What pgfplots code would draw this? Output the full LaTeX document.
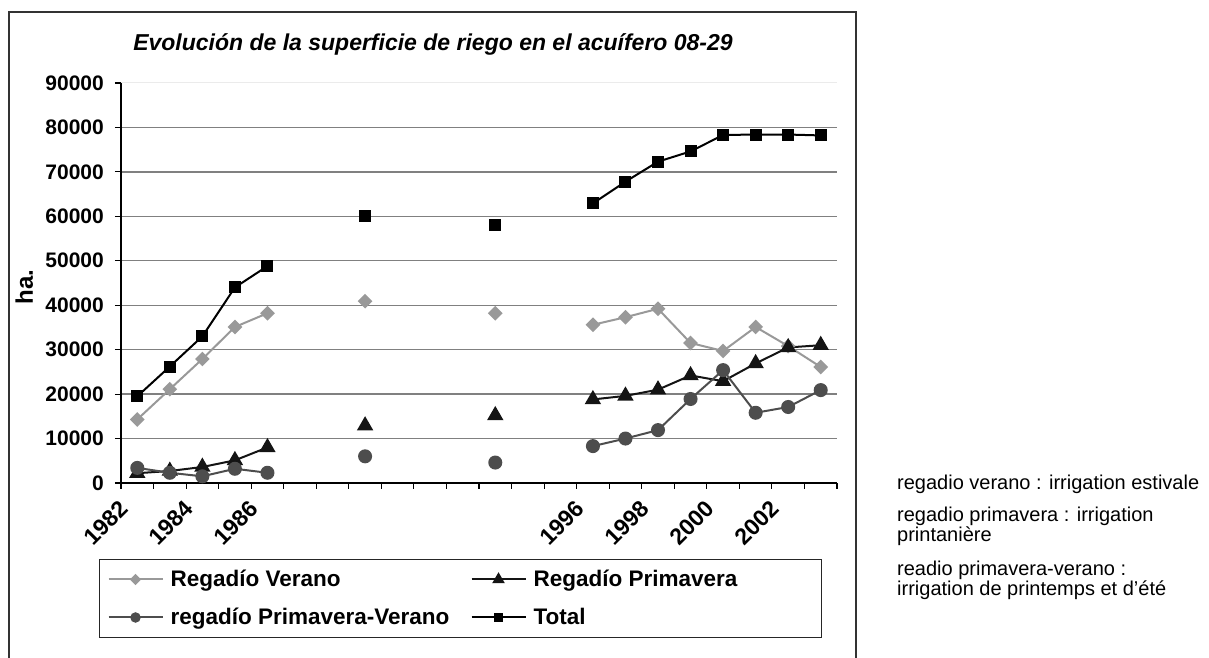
\documentclass[border=0pt]{standalone}
\usepackage{fontspec}
\setmainfont{Liberation Sans}
\usepackage{pgfplots}
\pgfplotsset{compat=1.18}
\definecolor{cVer}{HTML}{999999}
\definecolor{cPri}{HTML}{141414}
\definecolor{cPV}{HTML}{4D4D4D}
\definecolor{cGrid}{HTML}{808080}
\begin{document}
\begin{tikzpicture}[x=1bp,y=1bp]
\useasboundingbox (0,0) rectangle (1209,658);
\draw[line width=1.4bp, black!80] (9,-5) -- (9,646) -- (856,646) -- (856,-5);
\node[font=\bfseries\itshape\fontsize{23bp}{26bp}\selectfont] at (433,614) {Evolución de la superficie de riego en el acuífero 08-29};
\begin{axis}[
  at={(121bp,175bp)}, anchor=south west,
  scale only axis, width=716bp, height=400bp,
  xmin=-0.5, xmax=21.5, ymin=0, ymax=90000,
  axis x line*=bottom, axis y line*=left,
  axis line style={line width=1.3bp, black, -},
  tick align=outside, major tick length=6bp, minor tick length=6bp,
  every tick/.style={black, line width=1.1bp},
  xtick={0,2,4,14,16,18,20},
  xticklabels={1982,1984,1986,1996,1998,2000,2002},
  major x tick style={draw=none},
  minor xtick={-0.5,0.5,...,21.5},
  xticklabel style={font=\bfseries\fontsize{23bp}{25bp}\selectfont, xshift=-19bp, yshift=-10bp, rotate=45, anchor=north east, inner sep=0pt},
  ytick={0,10000,...,80000},
  extra y ticks={90000},
  extra y tick style={major grid style={black!8, line width=1bp}},
  ymajorgrids, major grid style={cGrid, line width=1.3bp},
  scaled y ticks=false,
  /pgf/number format/1000 sep={},
  /pgf/number format/assume math mode=true,
  yticklabel style={font=\bfseries\fontsize{21bp}{24bp}\selectfont, inner sep=0pt, xshift=-11bp},
  ylabel={ha.},
  ylabel style={font=\bfseries\fontsize{24bp}{26bp}\selectfont, at={(axis description cs:-0.135,0.49)}, anchor=center},
  unbounded coords=jump,
  legend columns=2,
  legend style={at={(-0.0307,-0.19)}, anchor=north west, draw=black!85, line width=1bp,
    inner xsep=8bp, inner ysep=11bp, row sep=20bp,
    font=\bfseries\fontsize{22.5bp}{24bp}\selectfont,
    nodes={inner sep=0pt},
    /tikz/every odd column/.append style={column sep=7bp},
    /tikz/every even column/.append style={column sep=0bp}},
  legend cell align=left,
  legend image code/.code={\draw[mark repeat=2,mark phase=2,#1,every mark/.append style={scale=0.7}] plot coordinates {(0bp,0bp) (27bp,0bp) (54bp,0bp)};},
]
\addplot[cVer, line width=2bp, mark=square*, mark size=4.2bp, mark options={solid, rotate=45, fill=cVer, draw=cVer}] coordinates {
(0,14300)(1,21100)(2,27900)(3,35100)(4,38200)(5,nan)(7,40900)(8,nan)(11,38200)(12,nan)(14,35600)(15,37300)(16,39200)(17,31500)(18,29700)(19,35100)(20,30800)(21,26100)};
\addlegendentry{\makebox[300bp][l]{Regadío Verano}}
\addplot[cPri, line width=2bp, mark=triangle*, mark size=7.5bp, mark options={solid, fill=cPri, draw=cPri}] coordinates {
(0,2200)(1,2700)(2,3600)(3,5100)(4,8000)(5,nan)(7,12900)(8,nan)(11,15200)(12,nan)(14,18800)(15,19600)(16,21000)(17,24200)(18,22900)(19,26900)(20,30500)(21,31000)};
\addlegendentry{\makebox[280bp][l]{Regadío Primavera}}
\addplot[cPV, line width=2bp, mark=*, mark size=6bp, mark options={solid, fill=cPV, draw=cPV}] coordinates {
(0,3400)(1,2300)(2,1500)(3,3200)(4,2300)(5,nan)(7,6000)(8,nan)(11,4600)(12,nan)(14,8300)(15,10000)(16,11900)(17,18900)(18,25400)(19,15800)(20,17100)(21,20900)};
\addlegendentry{\makebox[300bp][l]{regadío Primavera-Verano}}
\addplot[black, line width=2bp, mark=square*, mark size=5bp, mark options={solid, fill=black, draw=black}] coordinates {
(0,19500)(1,26200)(2,33000)(3,44000)(4,48800)(5,nan)(7,60000)(8,nan)(11,58000)(12,nan)(14,62900)(15,67800)(16,72300)(17,74600)(18,78300)(19,78400)(20,78400)(21,78200)};
\addlegendentry{\makebox[280bp][l]{Total}}
\end{axis}
\begin{scope}[every node/.style={anchor=base west, inner sep=0pt, font=\fontsize{20bp}{22bp}\selectfont}]
\node at (897,168) {regadio verano : irrigation estivale};
\node at (897,136) {regadio primavera : irrigation};
\node at (897,116) {printanière};
\node at (897,82) {readio primavera-verano :};
\node at (897,62) {irrigation de printemps et d’été};
\end{scope}
\end{tikzpicture}
\end{document}
